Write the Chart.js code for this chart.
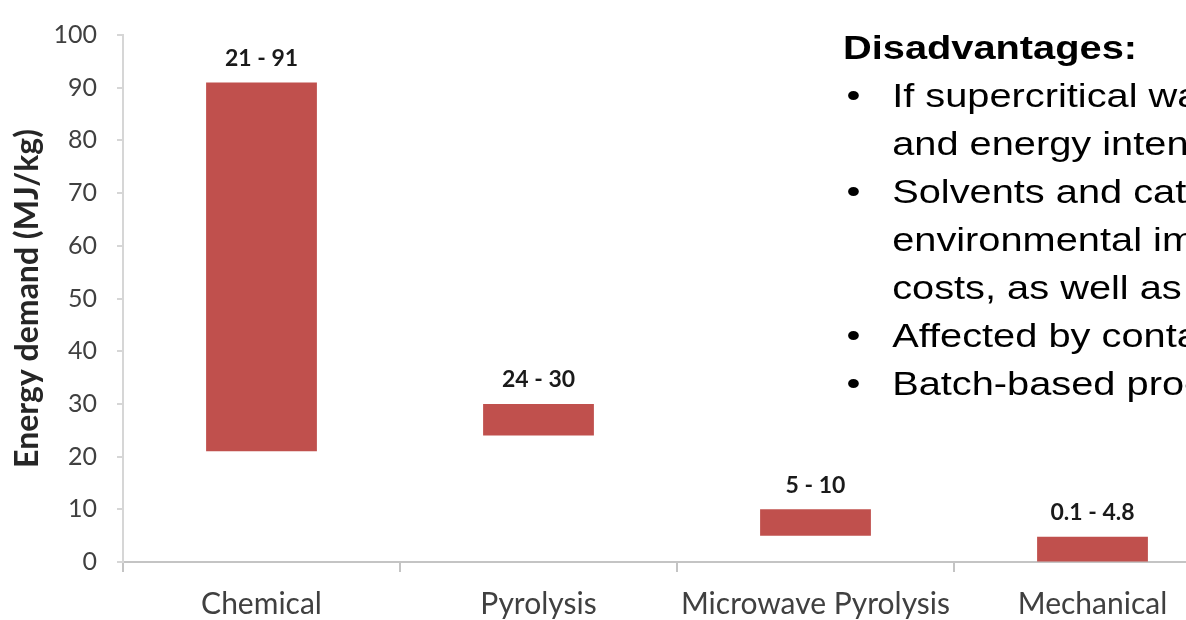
<!DOCTYPE html>
<html>
<head>
<meta charset="utf-8">
<script src="https://cdn.jsdelivr.net/npm/chart.js@4.4.1/dist/chart.umd.min.js"></script>
<style>
html, body { margin: 0; padding: 0; background: #fff; overflow: hidden; }
#wrap { position: relative; width: 1186px; height: 620px; overflow: hidden; }
#energy-chart { position: absolute; left: 0; top: 0; }
#notes {
    position: absolute; left: 843px; top: 23px;
    transform: scaleX(1.17); transform-origin: 0 0;
    font-family: "Liberation Sans", Arial, sans-serif;
    font-size: 34px; line-height: 48px; color: #000; white-space: nowrap;
}
#notes .head { font-weight: bold; }
#notes ul { list-style: none; margin: 0; padding: 0; }
#notes li { position: relative; padding-left: 42px; }
#notes li::before { content: "\2022"; position: absolute; left: 3px; }
</style>
</head>
<body>
<div id="wrap">
    <canvas id="energy-chart" width="1240" height="620"></canvas>
    <div id="notes">
        <div class="head">Disadvantages:</div>
        <ul>
            <li>If supercritical water is used, costly<br>and energy intensive</li>
            <li>Solvents and catalysts have<br>environmental impacts and<br>costs, as well as</li>
            <li>Affected by contaminants</li>
            <li>Batch-based processes</li>
        </ul>
    </div>
</div>
<script>
var categories = ['Chemical', 'Pyrolysis', 'Microwave Pyrolysis', 'Mechanical'];
var demandLow = [21, 24, 5, 0.1];
var demandHigh = [91, 30, 10, 4.8];
var barColor = '#c0504d';

// "low - high" printed over each bar
var rangeLabels = {
    id: 'rangeLabels',
    afterDatasetsDraw: function (chart) {
        var ctx = chart.ctx;
        var meta = chart.getDatasetMeta(0);
        ctx.save();
        ctx.font = 'bold 23px Lato';
        ctx.fillStyle = '#1a1a1a';
        ctx.textAlign = 'center';
        ctx.textBaseline = 'middle';
        meta.data.forEach(function (bar, i) {
            ctx.fillText(demandLow[i] + ' - ' + demandHigh[i], bar.x, bar.y - 24);
        });
        ctx.restore();
    }
};

var canvas = document.getElementById('energy-chart');
var energyChart = new Chart(canvas, {
    type: 'bar',
    data: {
        labels: categories,
        datasets: [{
            label: 'Energy demand',
            data: categories.map(function (c, i) { return [demandLow[i], demandHigh[i]]; }),
            backgroundColor: barColor,
            borderWidth: 0,
            barPercentage: 0.4,
            categoryPercentage: 1
        }]
    },
    options: {
        responsive: false,
        animation: false,
        layout: { padding: { top: 18, right: 9, left: 0, bottom: 0 } },
        plugins: {
            legend: { display: false },
            tooltip: { enabled: false }
        },
        scales: {
            x: {
                grid: { drawOnChartArea: false, offset: true, tickLength: 10, color: '#c4c4c4', lineWidth: 2 },
                border: { color: '#c4c4c4', width: 2 },
                ticks: { font: { family: 'Lato', size: 30 }, color: '#404040', padding: 14 },
                afterFit: function (scale) { scale.height = 58; }
            },
            y: {
                min: 0,
                max: 100,
                ticks: { stepSize: 10, font: { family: 'Lato', size: 25 }, color: '#404040', padding: 20 },
                grid: { drawOnChartArea: false, tickLength: 6, color: '#d6d6d6', lineWidth: 2 },
                border: { color: '#d6d6d6', width: 2 },
                title: {
                    display: true,
                    text: 'Energy demand (MJ/kg)',
                    font: { family: 'Lato', size: 32, weight: 'bold' },
                    color: '#262626',
                    padding: { top: 8, bottom: 0 }
                },
                afterFit: function (scale) { scale.width = 123; }
            }
        }
    },
    plugins: [rangeLabels]
});
</script>
</body>
</html>
